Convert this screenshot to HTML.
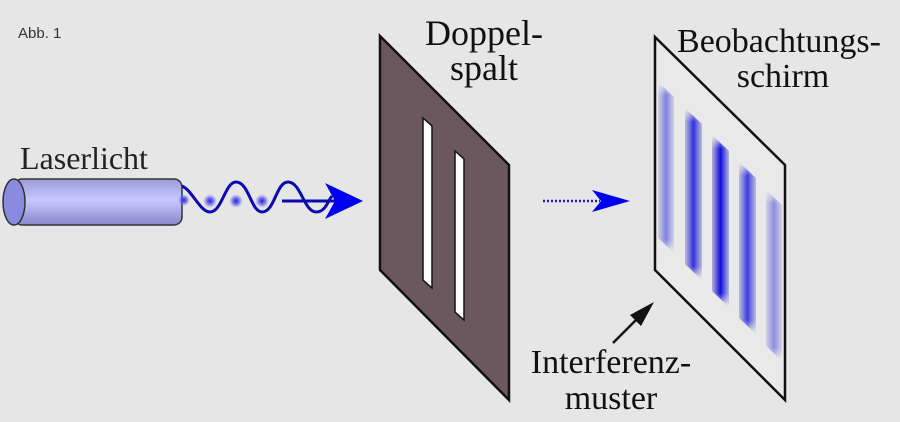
<!DOCTYPE html>
<html><head><style>
html,body{margin:0;padding:0;background:#e6e6e6;}
svg{display:block}
</style></head><body>
<svg width="900" height="422" viewBox="0 0 900 422" xmlns="http://www.w3.org/2000/svg">
<defs>
<linearGradient id="cyl" x1="0" y1="0" x2="0" y2="1">
<stop offset="0" stop-color="#9a9ad8"/><stop offset="0.45" stop-color="#c8c8ff"/><stop offset="1" stop-color="#8888cc"/>
</linearGradient>
<radialGradient id="dot"><stop offset="0" stop-color="#2020e0"/><stop offset="0.5" stop-color="#5050e8" stop-opacity="0.7"/><stop offset="1" stop-color="#8080ff" stop-opacity="0"/></radialGradient>
<linearGradient id="sx" x1="0" y1="0" x2="1" y2="0">
<stop offset="0" stop-color="#2020c0" stop-opacity="0.3"/><stop offset="0.5" stop-color="#0000e0" stop-opacity="1"/><stop offset="1" stop-color="#2020c0" stop-opacity="0.3"/>
</linearGradient>
<linearGradient id="vf" x1="0" y1="0" x2="0" y2="1">
<stop offset="0" stop-color="#fff" stop-opacity="0"/><stop offset="0.08" stop-color="#fff" stop-opacity="1"/><stop offset="0.92" stop-color="#fff" stop-opacity="1"/><stop offset="1" stop-color="#fff" stop-opacity="0"/>
</linearGradient>
<mask id="a" maskContentUnits="objectBoundingBox"><rect width="1" height="1" fill="url(#vf)"/></mask>
</defs>
<text x="18" y="38" font-family="Liberation Sans, sans-serif" font-size="15" fill="#333">Abb. 1</text>
<text x="20" y="169" font-family="Liberation Serif, serif" font-size="32" fill="#222">Laserlicht</text>
<!-- laser -->
<rect x="14" y="179" width="168" height="46" rx="8" fill="url(#cyl)" stroke="#333" stroke-width="1.5"/>
<ellipse cx="14" cy="202" rx="11" ry="23" fill="#8a8ae0" stroke="#333" stroke-width="1.5"/>
<circle cx="184" cy="200" r="6" fill="url(#dot)"/>
<circle cx="210" cy="201" r="7" fill="url(#dot)"/>
<circle cx="236" cy="201" r="7" fill="url(#dot)"/>
<circle cx="262" cy="201" r="7" fill="url(#dot)"/>
<path d="M182,186 C192,190 200,212 210,212 C222,212 225,182 236,182 C249,182 251,212 262,212 C275,212 276,182 288,182 C301,182 304,212 316,212 C326,212 328,200 332,196" fill="none" stroke="#0a0ab0" stroke-width="3"/>
<line x1="282" y1="201" x2="340" y2="201" stroke="#0a0ab0" stroke-width="3"/>
<path d="M363,201 L325,183 L335,201 L325,219 Z" fill="#0000f0"/>
<!-- double slit -->
<text x="484" y="45" text-anchor="middle" font-family="Liberation Serif, serif" font-size="36" fill="#111">Doppel-</text>
<text x="484" y="80" text-anchor="middle" font-family="Liberation Serif, serif" font-size="36" fill="#111">spalt</text>
<path d="M380,36 L509,165 L509,400 L380,270 Z" fill="#6b585e" stroke="#111" stroke-width="2.5"/>
<path d="M423,118 L432,126 L432,288 L423,280 Z" fill="#fff" stroke="#111" stroke-width="1.5"/>
<path d="M455,151 L464,159 L464,320 L455,312 Z" fill="#fff" stroke="#111" stroke-width="1.5"/>
<!-- dotted arrow -->
<line x1="543" y1="201" x2="600" y2="201" stroke="#1a1ad0" stroke-width="2.5" stroke-dasharray="2,2"/>
<path d="M630,201 L592,190 L601,201 L592,212 Z" fill="#0000f0"/>
<!-- screen -->
<text x="779" y="52" text-anchor="middle" font-family="Liberation Serif, serif" font-size="34" fill="#111">Beobachtungs-</text>
<text x="783" y="87" text-anchor="middle" font-family="Liberation Serif, serif" font-size="34" fill="#111">schirm</text>
<path d="M655,37 L785,165 L785,400 L655,270 Z" fill="#e9e9e9" stroke="#111" stroke-width="2.5"/>
<path d="M658,82 L674,97 L674,253 L658,238 Z" fill="url(#sx)" opacity="0.45" mask="url(#a)"/>
<path d="M685,108 L702,124 L702,280 L685,264 Z" fill="url(#sx)" opacity="0.8" mask="url(#a)"/>
<path d="M712,135 L729,151 L729,307 L712,291 Z" fill="url(#sx)" opacity="0.95" mask="url(#a)"/>
<path d="M739,162 L756,178 L756,334 L739,318 Z" fill="url(#sx)" opacity="0.75" mask="url(#a)"/>
<path d="M766,190 L782,205 L782,361 L766,346 Z" fill="url(#sx)" opacity="0.4" mask="url(#a)"/>
<!-- interference label -->
<line x1="613" y1="343" x2="640" y2="316" stroke="#111" stroke-width="2.5"/>
<path d="M654,302 L630,315 L641,326 Z" fill="#111"/>
<text x="611" y="373" text-anchor="middle" font-family="Liberation Serif, serif" font-size="34" fill="#111">Interferenz-</text>
<text x="611" y="409" text-anchor="middle" font-family="Liberation Serif, serif" font-size="34" fill="#111">muster</text>
</svg>
</body></html>
